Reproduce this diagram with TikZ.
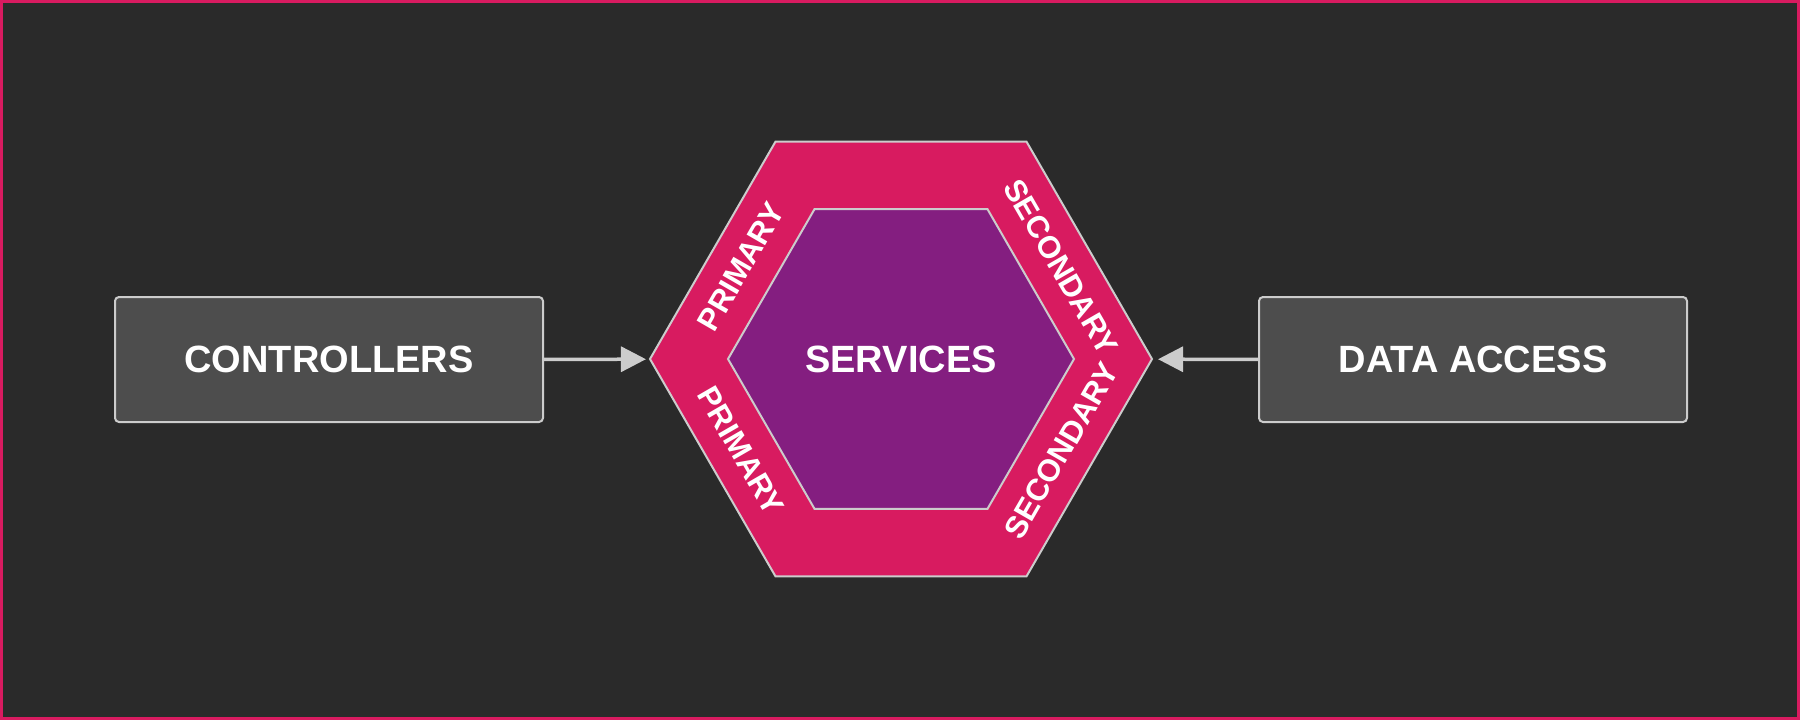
\documentclass[tikz,border=0pt]{standalone}
\usepackage{fontspec}
\setmainfont{Liberation Sans}
\usetikzlibrary{arrows.meta,shapes.geometric}

\definecolor{bgdark}{HTML}{2A2A2A}
\definecolor{hexpink}{HTML}{D81B60}
\definecolor{hexpurple}{HTML}{841E80}
\definecolor{boxgray}{HTML}{4D4D4D}
\definecolor{edgegray}{HTML}{CCCCCC}

\begin{document}
\begin{tikzpicture}[x=1pt,y=-1pt,
    >={Triangle[length=25pt,width=25pt]},
    layer box/.style={rectangle,draw=edgegray,line width=2pt,fill=boxgray,rounded corners=4pt,
        minimum width=428pt,minimum height=125pt,text=white,font=\bfseries\fontsize{38}{44}\selectfont},
    hex/.style={regular polygon,regular polygon sides=6,inner sep=0pt,
        draw=edgegray,line width=2pt},
    band label/.style={text=white,font=\bfseries\fontsize{31}{36}\selectfont,inner sep=0pt},
    link/.style={->,draw=edgegray,line width=3.5pt}]

  % canvas and frame
  \fill[bgdark] (0,0) rectangle (1800,720);
  \draw[hexpink,line width=3pt] (1.5,1.5) rectangle (1798.5,718.5);
  \useasboundingbox (0,0) rectangle (1800,720);

  \node[hex,fill=hexpink,minimum size=502pt]    (ports) at (901,359) {};
  \node[hex,fill=hexpurple,minimum size=346pt]  (svc) at (901,359)
      {\bfseries\fontsize{38}{44}\selectfont\color{white}SERVICES};

  \node[band label,rotate=60]   (primup)   at (741,267) {PRIMARY};
  \node[band label,rotate=-60]  (primdown) at (741,451) {PRIMARY};
  \node[band label,rotate=-60]  (secup)    at (1061,267) {SECONDARY};
  \node[band label,rotate=60]   (secdown)  at (1061,451) {SECONDARY};

  \node[layer box] (ctrl) at (329,359.5) {CONTROLLERS};
  \node[layer box] (data) at (1473,359.5) {DATA ACCESS};

  \path (ctrl) edge[link,shorten >=3pt] (ports)
        (data) edge[link,shorten >=5pt] (ports)
        ;
\end{tikzpicture}
\end{document}
